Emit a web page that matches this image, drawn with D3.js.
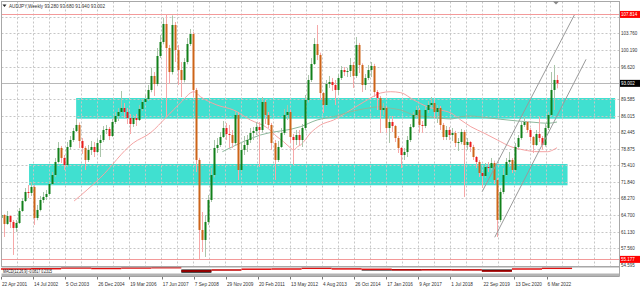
<!DOCTYPE html>
<html><head><meta charset="utf-8">
<script src="https://cdn.jsdelivr.net/npm/d3@7"></script>
<style>
html,body{margin:0;padding:0;background:#fff;overflow:hidden}
svg{display:block}
text{font-family:"Liberation Sans",Arial,sans-serif}
</style></head><body>
<svg id="c" width="640" height="290"></svg>
<script>
// ---------------- data ----------------
const symbol = "AUDJPY,Weekly";
const lastBar = ["93.280", "93.680", "91.940", "93.002"];
const startDate = "2001-04-22";
const weeksPerCandle = 6;
const firstOpen = 64.08;
const closes = [
 64.72,62.79,64.50,63.22,61.93,63.00,65.58,67.73,69.66,69.45,
 70.74,64.08,65.80,67.94,68.59,69.23,71.38,73.31,76.11,79.12,
 76.97,75.46,79.33,80.83,82.77,84.06,80.62,79.12,76.54,78.69,
 79.33,78.26,80.19,80.83,82.98,83.20,81.69,84.70,85.99,86.85,
 87.71,86.85,85.56,84.27,85.56,85.13,87.50,89.00,89.64,91.58,
 94.59,92.87,98.88,101.89,105.76,100.60,95.44,105.54,100.17,95.87,
 93.73,97.59,101.46,103.61,91.58,76.54,61.50,59.35,63.22,67.94,
 73.31,79.12,79.76,81.48,83.41,82.12,81.91,80.19,86.21,74.39,
 78.69,79.76,80.83,82.34,82.77,83.63,82.98,89.00,86.21,84.06,
 80.19,76.54,79.33,82.34,86.21,86.85,81.48,80.83,81.91,80.83,
 83.41,89.43,93.73,97.16,101.46,99.10,90.93,88.35,92.87,93.30,
 92.65,91.58,94.16,95.87,95.44,95.66,96.95,94.59,101.25,96.95,
 92.65,94.16,95.87,96.73,91.15,89.86,87.28,87.71,83.41,84.70,
 83.84,81.26,79.12,77.61,78.26,80.83,83.63,86.21,87.28,84.06,
 83.84,87.28,88.35,88.78,86.85,87.71,84.06,81.48,82.98,81.91,
 82.34,80.19,80.40,82.55,79.76,80.40,79.33,77.18,76.11,73.74,
 73.10,75.03,74.82,75.89,72.24,63.65,69.66,73.31,76.11,76.54,
 74.39,79.33,81.26,84.06,84.70,82.98,81.48,79.76,82.12,81.26,
 79.76,83.41,86.21,91.58,93.73,93.002
];
const highs = [
 65.80,64.90,65.58,64.72,63.65,63.65,66.22,68.37,70.52,71.17,
 71.81,71.20,66.87,68.80,69.66,70.09,72.03,73.96,76.97,80.40,
 79.55,77.61,80.40,81.69,83.41,85.56,84.60,81.26,79.50,79.76,
 80.62,80.40,81.05,81.91,83.84,84.06,83.63,85.35,86.85,87.71,
 91.36,88.78,87.71,86.42,86.21,86.42,88.35,89.64,90.50,92.65,
 96.30,95.44,100.60,103.39,107.05,107.81,101.25,107.60,106.19,101.25,
 97.59,98.45,102.75,104.68,104.04,92.01,77.00,65.37,64.72,69.02,
 74.82,80.83,81.26,82.55,84.92,84.49,84.06,82.98,87.28,86.85,
 80.19,81.69,81.91,83.41,83.63,84.70,84.70,90.07,89.43,86.85,
 84.50,80.83,80.62,83.41,87.50,88.35,87.30,82.12,82.98,82.98,
 84.27,90.50,94.80,98.45,102.75,105.54,99.60,91.15,93.73,94.59,
 94.16,93.73,95.02,96.73,96.52,96.30,98.45,97.59,102.97,101.70,
 97.30,95.02,96.95,97.59,97.20,91.58,90.30,88.78,88.10,85.99,
 85.99,84.06,81.70,79.33,79.12,81.69,84.27,86.85,88.14,87.70,
 84.92,88.14,89.21,90.07,89.43,88.35,88.14,84.50,83.84,83.63,
 83.41,82.80,81.26,83.20,82.98,81.26,80.62,79.80,77.40,76.50,
 73.96,75.89,76.11,76.97,76.40,72.70,70.52,74.82,76.97,78.26,
 76.97,80.19,81.91,84.70,85.78,84.92,83.40,81.69,82.98,85.78,
 81.70,84.27,86.85,95.44,96.95,94.80
];
const lows = [
 63.22,59.99,62.60,61.93,56.13,61.07,62.80,65.40,67.51,68.37,
 68.80,62.57,63.60,65.50,67.30,67.94,68.90,71.17,72.90,75.80,
 75.89,74.39,75.00,78.69,80.40,82.55,79.12,77.83,74.39,76.10,
 77.61,77.18,78.04,77.18,80.40,82.12,80.83,81.48,84.27,84.92,
 86.64,85.56,84.27,82.12,83.63,83.84,84.92,87.07,88.57,89.20,
 91.10,90.29,92.40,98.45,101.40,85.78,92.87,94.90,97.59,92.65,
 90.07,93.20,97.10,101.03,90.07,73.96,55.18,56.77,55.70,62.57,
 67.51,72.80,78.04,79.33,81.26,80.83,79.12,79.12,79.80,72.24,
 73.96,77.61,78.26,80.19,80.83,81.91,75.03,82.50,84.27,83.41,
 78.69,72.24,76.11,79.12,81.90,85.13,80.19,75.46,79.76,79.76,
 79.33,82.90,88.90,93.30,96.95,98.02,89.43,86.64,88.14,92.01,
 91.36,88.35,90.50,93.73,94.59,94.37,94.37,92.01,94.16,95.23,
 91.15,91.58,93.70,94.37,90.07,87.28,82.34,86.21,82.34,80.19,
 82.55,80.40,78.04,74.82,76.54,77.18,80.40,83.41,85.56,82.34,
 82.34,83.40,86.64,87.71,85.56,84.49,82.98,80.83,80.83,80.83,
 80.62,79.33,78.47,79.90,68.59,78.69,78.26,76.54,74.82,72.89,
 70.52,72.70,73.96,74.39,71.38,59.99,63.20,69.20,73.10,75.03,
 73.74,73.90,79.12,80.90,83.63,82.34,80.62,78.04,79.55,80.40,
 78.69,79.40,82.98,85.80,87.28,91.94
];
// slow moving average (pink), points read at week offsets
const maSlowWeeks = [146,198,264,298,331,358,385,398,431,464,498,532,551,564,578,584,592,598,618,638,664,698,731,758,778,798,824,851,878,898,918,938,964,991,1018,1044,1072,1091,1102,1110];
const maSlowValues = [67.73,72.68,80.19,82.34,85.84,88.78,91.21,90.14,88.35,87.28,85.13,83.41,81.54,80.47,79.12,78.69,79.40,79.76,82.34,84.06,85.13,87.28,89.43,90.93,91.21,91.00,89.43,87.99,87.28,86.64,85.13,83.69,82.34,80.83,79.40,78.69,78.32,78.32,78.69,79.18];
// second moving average (grey-green)
const maMidWeeks = [442,518,598,631,664,698,731,758,778,798,824,851,878,898,918,938,964,998,1031,1064,1091,1110];
const maMidValues = [78.32,81.91,83.69,85.13,85.84,86.92,87.65,87.99,87.65,87.28,86.21,85.84,85.50,85.35,85.84,85.99,85.71,85.28,84.92,84.64,84.42,84.70];
// MACD sub-window (blocks of 60 weeks)
const macdSignal = [0.5,0.8,1.5,1.0,1.5,1.8,-1.5,-0.5,0.3,0.5,1.2,0.6,0.2,-0.3,-0.3,-0.4,-1.5,0.5,1.2];
const macdHist   = [0,0,0,0,0,0,-3.2,0,0,0,0,0,-1.0,-0.8,0,0,-2.0,0,0];
// zones (rectangles)
const zoneStartWeeks = [150, 56];
const zoneEndWeeks = [1226, 1131];
const zoneTops = [89.86, 75.68];
const zoneBottoms = [85.41, 71.10];
// channel lines
const channelStartWeeks = [960.5, 985.6];
const channelEndWeeks = [1144.6, 1168];
const channelStartPrices = [69.72, 59.93];
const channelEndPrices = [107.69, 98.17];
// horizontal levels and bid
const levelPrices = [107.814, 55.177];
const bidPrice = 93.002;
// axes
const timeLabels = ["22 Apr 2001","14 Jul 2002","5 Oct 2003","26 Dec 2004","19 Mar 2006","17 Jun 2007","7 Sep 2008","29 Nov 2009","20 Feb 2011","13 May 2012","4 Aug 2013","26 Oct 2014","17 Jan 2016","9 Apr 2017","1 Jul 2018","22 Sep 2019","13 Dec 2020","6 Mar 2022"];
const priceTicks = ["103.760","100.190","96.620","89.585","86.015","82.445","78.875","75.410","71.840","68.270","64.700","61.130","57.560"];
const hiddenGridPrices = [107.330, 93.155];
const subLabel = "54.595";
const macdTitle = "MACD(12,26,9) -0.0817 0.2315";

// ---------------- drawing ----------------
const svg = d3.select("#c");
const parseDay = d3.timeParse("%Y-%m-%d");
const parseLabel = d3.timeParse("%d %b %Y");
const t0 = parseDay(startDate);
const wkDate = w => new Date(+t0 + w * 7 * 864e5);
const labelDates = timeLabels.map(parseLabel);

const L = 1.5, R = 619.5, T = 1.5, B = 266.5;
const x = d3.scaleTime().domain([labelDates[0], labelDates[labelDates.length - 1]]).range([1, 546.5]);
const y = d3.scaleLinear().domain([103.76, 57.56]).range([33.3, 248.3]);

const candles = closes.map((c, i) => ({
  date: wkDate(i * weeksPerCandle),
  o: i === 0 ? firstOpen : closes[i - 1], h: highs[i], l: lows[i], c
}));

svg.append("defs").append("clipPath").attr("id", "main")
  .append("rect").attr("x", L).attr("y", T).attr("width", R - L).attr("height", B - T);

const plot = svg.append("g").attr("clip-path", "url(#main)");

// zones
const zones = zoneTops.map((t, k) => ({ x0: wkDate(zoneStartWeeks[k]), x1: wkDate(zoneEndWeeks[k]), t, b: zoneBottoms[k] }));
plot.selectAll("rect.zone").data(zones).join("rect").attr("class", "zone")
  .attr("x", d => x(d.x0)).attr("width", d => x(d.x1) - x(d.x0))
  .attr("y", d => y(d.t)).attr("height", d => y(d.b) - y(d.t))
  .attr("fill", "#40e0d0");

// grid
const gridG = plot.append("g").attr("stroke", "#c6c6c6").attr("stroke-dasharray", "2,2").attr("stroke-width", 1);
const gridWeeks = d3.range(0, 1300, 32);
gridG.selectAll("line.v").data(gridWeeks).join("line")
  .attr("x1", w => Math.round(x(wkDate(w))) + 0.5).attr("x2", w => Math.round(x(wkDate(w))) + 0.5)
  .attr("y1", T).attr("y2", B);
const gridPrices = priceTicks.map(Number).concat(hiddenGridPrices);
gridG.selectAll("line.h").data(gridPrices).join("line")
  .attr("x1", L).attr("x2", R)
  .attr("y1", p => Math.round(y(p)) + 0.5).attr("y2", p => Math.round(y(p)) + 0.5);

// level lines
plot.selectAll("line.lvl").data(levelPrices).join("line")
  .attr("x1", L).attr("x2", R)
  .attr("y1", p => Math.round(y(p)) + 0.5).attr("y2", p => Math.round(y(p)) + 0.5)
  .attr("stroke", "#f39a9a").attr("stroke-width", 1);
// bid line
plot.append("line").attr("x1", L).attr("x2", R)
  .attr("y1", Math.round(y(bidPrice)) + 0.5).attr("y2", Math.round(y(bidPrice)) + 0.5)
  .attr("stroke", "#b8b8b8");

// moving averages
const lineGen = d3.line().x(d => x(d[0])).y(d => y(d[1])).curve(d3.curveMonotoneX);
plot.append("path").datum(maSlowWeeks.map((w, k) => [wkDate(w), maSlowValues[k]]))
  .attr("d", lineGen).attr("fill", "none").attr("stroke", "#f4a3a3").attr("stroke-width", 1);
plot.append("path").datum(maMidWeeks.map((w, k) => [wkDate(w), maMidValues[k]]))
  .attr("d", lineGen).attr("fill", "none").attr("stroke", "#8db89c").attr("stroke-width", 1);

// candles
const cg = plot.append("g");
cg.selectAll("rect.wick").data(candles).join("rect")
  .attr("x", d => Math.round(x(d.date))).attr("width", 1)
  .attr("y", d => y(d.h)).attr("height", d => Math.max(1, y(d.l) - y(d.h)))
  .attr("fill", d => d.c >= d.o ? "#aac5aa" : "#f6a8a8");
cg.selectAll("rect.body").data(candles).join("rect")
  .attr("x", d => Math.round(x(d.date)) - 0.5).attr("width", 2)
  .attr("y", d => y(Math.max(d.o, d.c))).attr("height", d => Math.max(1, Math.abs(y(d.o) - y(d.c))))
  .attr("fill", d => d.c >= d.o ? "#12801a" : (d.o - d.c > 1.6 ? "#cd6418" : "#ec1c1c"));

// channel lines
const chan = channelStartWeeks.map((w, k) => [[wkDate(w), channelStartPrices[k]], [wkDate(channelEndWeeks[k]), channelEndPrices[k]]]);
plot.selectAll("path.chan").data(chan).join("path")
  .attr("d", d3.line().x(d => x(d[0])).y(d => y(d[1])))
  .attr("stroke", "#9a9a9a").attr("stroke-width", 1).attr("fill", "none");

// frame
const frame = svg.append("g").attr("fill", "none").attr("stroke", "#a8a8a8");
frame.append("rect").attr("x", L).attr("y", T).attr("width", R - L).attr("height", B - T);
// chart-shift marker
svg.append("path").attr("d", "M553,1.5 L559,1.5 L556,4.5 Z").attr("fill", "#888");

// MACD sub-window
const yM = d3.scaleLinear().domain([-4, 2]).range([273.5, 267.5]);
const blockW = 60;
const sub = svg.append("g");
sub.selectAll("rect.h").data(macdHist).join("rect")
  .attr("x", (v, k) => x(wkDate(k * blockW))).attr("width", (v, k) => x(wkDate((k + 1) * blockW)) - x(wkDate(k * blockW)))
  .attr("y", v => Math.min(yM(0), yM(v))).attr("height", v => Math.abs(yM(v) - yM(0)))
  .attr("fill", "#000");
sub.selectAll("rect.s").data(macdSignal).join("rect")
  .attr("x", (v, k) => x(wkDate(k * blockW))).attr("width", (v, k) => x(wkDate((k + 1) * blockW)) - x(wkDate(k * blockW)))
  .attr("y", v => yM(v) - 0.75).attr("height", 1.5)
  .attr("fill", (v) => v >= 0 ? "#e01010" : "#c00000");
svg.append("line").attr("x1", L).attr("x2", R).attr("y1", 267).attr("y2", 267).attr("stroke", "#a8a8a8");
svg.append("rect").attr("x", L).attr("y", 273.5).attr("width", R - L).attr("height", 2.5).attr("fill", "#b4b4b4");
svg.append("line").attr("x1", L).attr("x2", R).attr("y1", 276.5).attr("y2", 276.5).attr("stroke", "#a0a0a0");
svg.append("line").attr("x1", R).attr("x2", R).attr("y1", T).attr("y2", 276.5).attr("stroke", "#a8a8a8");

function squeeze(sel, ratio) {
  sel.each(function () {
    const w = this.getComputedTextLength();
    d3.select(this).attr("textLength", w * ratio).attr("lengthAdjust", "spacingAndGlyphs");
  });
}

// price labels
const pl = svg.append("g").attr("font-size", 5.5).attr("fill", "#333");
pl.selectAll("text").data(priceTicks).join("text")
  .attr("x", 621).attr("y", d => y(+d) + 2).text(d => d).call(squeeze, 0.82);
pl.append("text").attr("x", 621).attr("y", 266.5).text(subLabel).call(squeeze, 0.82);

// level & bid labels
const tags = levelPrices.map(p => ({ p, bg: "#ff0000" })).concat([{ p: bidPrice, bg: "#000" }]);
const tg = svg.append("g");
tg.selectAll("rect").data(tags).join("rect")
  .attr("x", 620).attr("y", d => y(d.p) - 3.5).attr("width", 20).attr("height", 7).attr("fill", d => d.bg);
tg.selectAll("text").data(tags).join("text")
  .attr("x", 621).attr("y", d => y(d.p) + 2).attr("font-size", 5.5).attr("fill", "#fff")
  .text(d => d.p.toFixed(3)).call(squeeze, 0.82);

// time labels
const tl = svg.append("g").attr("font-size", 5.5).attr("fill", "#333");
tl.selectAll("text").data(labelDates).join("text")
  .attr("x", d => x(d) + 1).attr("y", 285.5).text((d, k) => timeLabels[k]).call(squeeze, 0.85);
tl.selectAll("line").data(labelDates).join("line")
  .attr("x1", d => Math.round(x(d)) + 0.5).attr("x2", d => Math.round(x(d)) + 0.5)
  .attr("y1", 277).attr("y2", 279.5).attr("stroke", "#777");

// title
svg.append("path").attr("d", "M2.5,4.5 L6.5,4.5 L4.5,7 Z").attr("fill", "#222");
svg.append("text").attr("x", 9).attr("y", 7.5).attr("font-size", 5.8).attr("fill", "#333")
  .text(symbol + "  " + lastBar.join(" ")).call(squeeze, 0.8);
svg.append("text").attr("x", 3).attr("y", 272.5).attr("font-size", 5).attr("fill", "#111")
  .text(macdTitle).call(squeeze, 0.7);
</script>
</body></html>
